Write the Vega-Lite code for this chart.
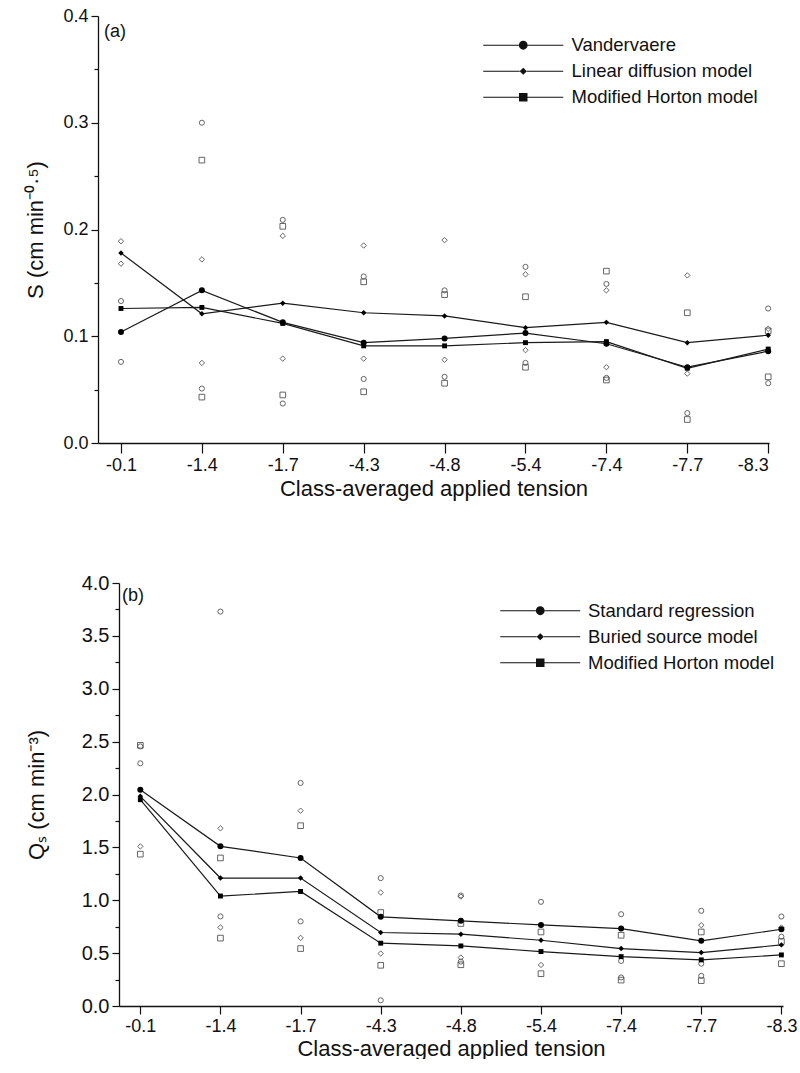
{
  "$schema": "https://vega.github.io/schema/vega-lite/v6.json",
  "background": "white",
  "padding": {"left": 24, "top": 7, "right": 0, "bottom": 0},
  "config": {
    "view": {"stroke": null},
    "font": "Liberation Sans",
    "axis": {"domainColor": "#111", "tickColor": "#111", "labelColor": "#111", "titleColor": "#111", "labelFont": "Liberation Sans", "titleFont": "Liberation Sans", "titleFontWeight": "normal", "domainWidth": 1.3, "tickWidth": 1.2, "grid": false}
  },
  "datasets": {
    "a": [
      {"pos":1,"method":"Vandervaere","kind":"mean","v":0.104},
      {"pos":2,"method":"Vandervaere","kind":"mean","v":0.143},
      {"pos":3,"method":"Vandervaere","kind":"mean","v":0.113},
      {"pos":4,"method":"Vandervaere","kind":"mean","v":0.094},
      {"pos":5,"method":"Vandervaere","kind":"mean","v":0.098},
      {"pos":6,"method":"Vandervaere","kind":"mean","v":0.103},
      {"pos":7,"method":"Vandervaere","kind":"mean","v":0.093},
      {"pos":8,"method":"Vandervaere","kind":"mean","v":0.071},
      {"pos":9,"method":"Vandervaere","kind":"mean","v":0.086},
      {"pos":1,"method":"Linear diffusion model","kind":"mean","v":0.178},
      {"pos":2,"method":"Linear diffusion model","kind":"mean","v":0.121},
      {"pos":3,"method":"Linear diffusion model","kind":"mean","v":0.131},
      {"pos":4,"method":"Linear diffusion model","kind":"mean","v":0.122},
      {"pos":5,"method":"Linear diffusion model","kind":"mean","v":0.119},
      {"pos":6,"method":"Linear diffusion model","kind":"mean","v":0.108},
      {"pos":7,"method":"Linear diffusion model","kind":"mean","v":0.113},
      {"pos":8,"method":"Linear diffusion model","kind":"mean","v":0.094},
      {"pos":9,"method":"Linear diffusion model","kind":"mean","v":0.101},
      {"pos":1,"method":"Modified Horton model","kind":"mean","v":0.126},
      {"pos":2,"method":"Modified Horton model","kind":"mean","v":0.127},
      {"pos":3,"method":"Modified Horton model","kind":"mean","v":0.112},
      {"pos":4,"method":"Modified Horton model","kind":"mean","v":0.091},
      {"pos":5,"method":"Modified Horton model","kind":"mean","v":0.091},
      {"pos":6,"method":"Modified Horton model","kind":"mean","v":0.094},
      {"pos":7,"method":"Modified Horton model","kind":"mean","v":0.095},
      {"pos":8,"method":"Modified Horton model","kind":"mean","v":0.070},
      {"pos":9,"method":"Modified Horton model","kind":"mean","v":0.088},
      {"pos":1,"method":"Linear diffusion model","kind":"obs","v":0.189},
      {"pos":1,"method":"Linear diffusion model","kind":"obs","v":0.168},
      {"pos":1,"method":"Vandervaere","kind":"obs","v":0.133},
      {"pos":1,"method":"Vandervaere","kind":"obs","v":0.076},
      {"pos":2,"method":"Vandervaere","kind":"obs","v":0.300},
      {"pos":2,"method":"Modified Horton model","kind":"obs","v":0.265},
      {"pos":2,"method":"Linear diffusion model","kind":"obs","v":0.172},
      {"pos":2,"method":"Linear diffusion model","kind":"obs","v":0.075},
      {"pos":2,"method":"Vandervaere","kind":"obs","v":0.051},
      {"pos":2,"method":"Modified Horton model","kind":"obs","v":0.043},
      {"pos":3,"method":"Vandervaere","kind":"obs","v":0.209},
      {"pos":3,"method":"Modified Horton model","kind":"obs","v":0.203},
      {"pos":3,"method":"Linear diffusion model","kind":"obs","v":0.194},
      {"pos":3,"method":"Linear diffusion model","kind":"obs","v":0.079},
      {"pos":3,"method":"Modified Horton model","kind":"obs","v":0.045},
      {"pos":3,"method":"Vandervaere","kind":"obs","v":0.037},
      {"pos":4,"method":"Linear diffusion model","kind":"obs","v":0.185},
      {"pos":4,"method":"Vandervaere","kind":"obs","v":0.156},
      {"pos":4,"method":"Modified Horton model","kind":"obs","v":0.151},
      {"pos":4,"method":"Linear diffusion model","kind":"obs","v":0.079},
      {"pos":4,"method":"Vandervaere","kind":"obs","v":0.060},
      {"pos":4,"method":"Modified Horton model","kind":"obs","v":0.048},
      {"pos":5,"method":"Linear diffusion model","kind":"obs","v":0.190},
      {"pos":5,"method":"Vandervaere","kind":"obs","v":0.143},
      {"pos":5,"method":"Modified Horton model","kind":"obs","v":0.139},
      {"pos":5,"method":"Linear diffusion model","kind":"obs","v":0.078},
      {"pos":5,"method":"Vandervaere","kind":"obs","v":0.062},
      {"pos":5,"method":"Modified Horton model","kind":"obs","v":0.056},
      {"pos":6,"method":"Vandervaere","kind":"obs","v":0.165},
      {"pos":6,"method":"Linear diffusion model","kind":"obs","v":0.158},
      {"pos":6,"method":"Modified Horton model","kind":"obs","v":0.137},
      {"pos":6,"method":"Linear diffusion model","kind":"obs","v":0.087},
      {"pos":6,"method":"Vandervaere","kind":"obs","v":0.075},
      {"pos":6,"method":"Modified Horton model","kind":"obs","v":0.071},
      {"pos":7,"method":"Modified Horton model","kind":"obs","v":0.161},
      {"pos":7,"method":"Vandervaere","kind":"obs","v":0.149},
      {"pos":7,"method":"Linear diffusion model","kind":"obs","v":0.143},
      {"pos":7,"method":"Linear diffusion model","kind":"obs","v":0.071},
      {"pos":7,"method":"Vandervaere","kind":"obs","v":0.061},
      {"pos":7,"method":"Modified Horton model","kind":"obs","v":0.059},
      {"pos":8,"method":"Linear diffusion model","kind":"obs","v":0.157},
      {"pos":8,"method":"Modified Horton model","kind":"obs","v":0.122},
      {"pos":8,"method":"Linear diffusion model","kind":"obs","v":0.065},
      {"pos":8,"method":"Vandervaere","kind":"obs","v":0.028},
      {"pos":8,"method":"Modified Horton model","kind":"obs","v":0.022},
      {"pos":9,"method":"Vandervaere","kind":"obs","v":0.126},
      {"pos":9,"method":"Linear diffusion model","kind":"obs","v":0.107},
      {"pos":9,"method":"Modified Horton model","kind":"obs","v":0.105},
      {"pos":9,"method":"Modified Horton model","kind":"obs","v":0.062},
      {"pos":9,"method":"Vandervaere","kind":"obs","v":0.056}
    ],
    "b": [
      {"pos":1,"method":"Standard regression","kind":"mean","v":2.046},
      {"pos":2,"method":"Standard regression","kind":"mean","v":1.51},
      {"pos":3,"method":"Standard regression","kind":"mean","v":1.40},
      {"pos":4,"method":"Standard regression","kind":"mean","v":0.843},
      {"pos":5,"method":"Standard regression","kind":"mean","v":0.805},
      {"pos":6,"method":"Standard regression","kind":"mean","v":0.767},
      {"pos":7,"method":"Standard regression","kind":"mean","v":0.732},
      {"pos":8,"method":"Standard regression","kind":"mean","v":0.616},
      {"pos":9,"method":"Standard regression","kind":"mean","v":0.726},
      {"pos":1,"method":"Buried source model","kind":"mean","v":1.983},
      {"pos":2,"method":"Buried source model","kind":"mean","v":1.21},
      {"pos":3,"method":"Buried source model","kind":"mean","v":1.21},
      {"pos":4,"method":"Buried source model","kind":"mean","v":0.695},
      {"pos":5,"method":"Buried source model","kind":"mean","v":0.679},
      {"pos":6,"method":"Buried source model","kind":"mean","v":0.622},
      {"pos":7,"method":"Buried source model","kind":"mean","v":0.543},
      {"pos":8,"method":"Buried source model","kind":"mean","v":0.505},
      {"pos":9,"method":"Buried source model","kind":"mean","v":0.578},
      {"pos":1,"method":"Modified Horton model","kind":"mean","v":1.951},
      {"pos":2,"method":"Modified Horton model","kind":"mean","v":1.04},
      {"pos":3,"method":"Modified Horton model","kind":"mean","v":1.083},
      {"pos":4,"method":"Modified Horton model","kind":"mean","v":0.594},
      {"pos":5,"method":"Modified Horton model","kind":"mean","v":0.568},
      {"pos":6,"method":"Modified Horton model","kind":"mean","v":0.515},
      {"pos":7,"method":"Modified Horton model","kind":"mean","v":0.467},
      {"pos":8,"method":"Modified Horton model","kind":"mean","v":0.436},
      {"pos":9,"method":"Modified Horton model","kind":"mean","v":0.483},
      {"pos":1,"method":"Modified Horton model","kind":"obs","v":2.465},
      {"pos":1,"method":"Standard regression","kind":"obs","v":2.455},
      {"pos":1,"method":"Standard regression","kind":"obs","v":2.295},
      {"pos":1,"method":"Buried source model","kind":"obs","v":1.509},
      {"pos":1,"method":"Modified Horton model","kind":"obs","v":1.436},
      {"pos":2,"method":"Standard regression","kind":"obs","v":3.73},
      {"pos":2,"method":"Buried source model","kind":"obs","v":1.68},
      {"pos":2,"method":"Modified Horton model","kind":"obs","v":1.40},
      {"pos":2,"method":"Standard regression","kind":"obs","v":0.847},
      {"pos":2,"method":"Buried source model","kind":"obs","v":0.743},
      {"pos":2,"method":"Modified Horton model","kind":"obs","v":0.642},
      {"pos":3,"method":"Standard regression","kind":"obs","v":2.109},
      {"pos":3,"method":"Buried source model","kind":"obs","v":1.847},
      {"pos":3,"method":"Modified Horton model","kind":"obs","v":1.705},
      {"pos":3,"method":"Standard regression","kind":"obs","v":0.80},
      {"pos":3,"method":"Buried source model","kind":"obs","v":0.644},
      {"pos":3,"method":"Modified Horton model","kind":"obs","v":0.543},
      {"pos":4,"method":"Standard regression","kind":"obs","v":1.209},
      {"pos":4,"method":"Buried source model","kind":"obs","v":1.073},
      {"pos":4,"method":"Modified Horton model","kind":"obs","v":0.884},
      {"pos":4,"method":"Buried source model","kind":"obs","v":0.496},
      {"pos":4,"method":"Modified Horton model","kind":"obs","v":0.385},
      {"pos":4,"method":"Standard regression","kind":"obs","v":0.054},
      {"pos":5,"method":"Standard regression","kind":"obs","v":1.045},
      {"pos":5,"method":"Buried source model","kind":"obs","v":1.035},
      {"pos":5,"method":"Modified Horton model","kind":"obs","v":0.78},
      {"pos":5,"method":"Buried source model","kind":"obs","v":0.458},
      {"pos":5,"method":"Standard regression","kind":"obs","v":0.42},
      {"pos":5,"method":"Modified Horton model","kind":"obs","v":0.39},
      {"pos":6,"method":"Standard regression","kind":"obs","v":0.985},
      {"pos":6,"method":"Modified Horton model","kind":"obs","v":0.70},
      {"pos":6,"method":"Buried source model","kind":"obs","v":0.388},
      {"pos":6,"method":"Modified Horton model","kind":"obs","v":0.306},
      {"pos":7,"method":"Standard regression","kind":"obs","v":0.868},
      {"pos":7,"method":"Modified Horton model","kind":"obs","v":0.669},
      {"pos":7,"method":"Standard regression","kind":"obs","v":0.426},
      {"pos":7,"method":"Standard regression","kind":"obs","v":0.27},
      {"pos":7,"method":"Modified Horton model","kind":"obs","v":0.245},
      {"pos":8,"method":"Standard regression","kind":"obs","v":0.90},
      {"pos":8,"method":"Buried source model","kind":"obs","v":0.764},
      {"pos":8,"method":"Modified Horton model","kind":"obs","v":0.70},
      {"pos":8,"method":"Standard regression","kind":"obs","v":0.40},
      {"pos":8,"method":"Standard regression","kind":"obs","v":0.285},
      {"pos":8,"method":"Modified Horton model","kind":"obs","v":0.24},
      {"pos":9,"method":"Standard regression","kind":"obs","v":0.846},
      {"pos":9,"method":"Buried source model","kind":"obs","v":0.742},
      {"pos":9,"method":"Standard regression","kind":"obs","v":0.655},
      {"pos":9,"method":"Modified Horton model","kind":"obs","v":0.61},
      {"pos":9,"method":"Modified Horton model","kind":"obs","v":0.40}
    ]
  },
  "concat": [
    {
      "width": 671,
      "height": 427,
      "data": {"name": "a"},
      "encoding": {
        "x": {"field": "pos", "type": "quantitative", "scale": {"domain": [0.716, 9.01], "nice": false, "zero": false},
          "axis": {"values": [1,2,3,4,5,6,7,8,9], "labelExpr": "['-0.1','-1.4','-1.7','-4.3','-4.8','-5.4','-7.4','-7.7','-8.3'][datum.value-1]", "tickSize": 10, "labelPadding": 3, "labelFontSize": 18, "title": "Class-averaged applied tension", "titleFontSize": 22, "titlePadding": 4, "labelOverlap": false}},
        "y": {"field": "v", "type": "quantitative", "scale": {"domain": [0, 0.4], "nice": false, "zero": true},
          "axis": {"values": [0,0.05,0.1,0.15,0.2,0.25,0.3,0.35,0.4], "labelExpr": "abs(datum.value*10-round(datum.value*10))<0.001 ? format(datum.value,'.1f') : ''", "tickSize": {"condition": {"test": "abs(datum.value*10-round(datum.value*10))<0.001", "value": 7}, "value": 4}, "labelPadding": 3, "labelFontSize": 18, "title": "S (cm min⁻⁰·⁵)", "titleFontSize": 22, "titlePadding": 15, "labelOverlap": false}}
      },
      "layer": [
        {"transform": [{"filter": "datum.kind==='mean'"}], "mark": {"type": "line", "color": "#1a1a1a", "strokeWidth": 1.2}, "encoding": {"detail": {"field": "method"}}},
        {"transform": [{"filter": "datum.kind==='obs'"}], "mark": {"type": "point", "filled": false, "color": "#555", "strokeWidth": 0.9, "opacity": 1},
          "encoding": {"shape": {"field": "method", "scale": {"domain": ["Vandervaere","Linear diffusion model","Modified Horton model"], "range": ["circle","diamond","square"]}, "legend": null},
            "size": {"field": "method", "scale": {"domain": ["Vandervaere","Linear diffusion model","Modified Horton model"], "range": [26,32,24]}, "legend": null}}},
        {"transform": [{"filter": "datum.kind==='mean'"}], "mark": {"type": "point", "filled": true, "color": "#000", "opacity": 1},
          "encoding": {"shape": {"field": "method", "scale": {"domain": ["Vandervaere","Linear diffusion model","Modified Horton model"], "range": ["circle","diamond","square"]}, "legend": null},
            "size": {"field": "method", "scale": {"domain": ["Vandervaere","Linear diffusion model","Modified Horton model"], "range": [36,24,36]}, "legend": null}}},
        {"transform": [{"filter": "false"}], "mark": {"type": "point", "filled": true, "color": "#111", "opacity": 1},
          "encoding": {"shape": {"field": "method", "scale": {"domain": ["Vandervaere","Linear diffusion model","Modified Horton model"], "range": [
            "M-5,-0.075H-0.55V0.075H-5Z M0.55,-0.075H5V0.075H0.55Z M0.55,0A0.55,0.55,0,1,1,-0.55,0A0.55,0.55,0,1,1,0.55,0Z",
            "M-5,-0.075H-0.45V0.075H-5Z M0.45,-0.075H5V0.075H0.45Z M0,-0.45L0.45,0L0,0.45L-0.45,0Z",
            "M-5,-0.075H-0.53V0.075H-5Z M0.53,-0.075H5V0.075H0.53Z M-0.53,-0.53H0.53V0.53H-0.53Z"]},
            "legend": {"orient": "none", "legendX": 416, "legendY": 20, "title": null, "symbolSize": 256, "symbolFillColor": "#111", "symbolStrokeWidth": 0, "symbolOpacity": 1, "labelFontSize": 18.5, "labelFont": "Liberation Sans", "labelColor": "#111", "labelOffset": 39, "rowPadding": 7, "labelLimit": 400}}}},
        {"transform": [{"filter": "datum.kind==='mean' && datum.pos===1 && datum.method==='Vandervaere'"}],
          "mark": {"type": "text", "text": "(a)", "align": "left", "baseline": "middle", "fontSize": 18, "font": "Liberation Sans", "color": "#111"},
          "encoding": {"x": {"datum": 0.79}, "y": {"datum": 0.385}}}
      ],
      "resolve": {"scale": {"shape": "independent", "size": "independent"}}
    },
    {
      "width": 685,
      "height": 423,
      "data": {"name": "b"},
      "encoding": {
        "x": {"field": "pos", "type": "quantitative", "scale": {"domain": [0.734, 9.02], "range": [21, 685], "nice": false, "zero": false},
          "axis": {"values": [1,2,3,4,5,6,7,8,9], "labelExpr": "['-0.1','-1.4','-1.7','-4.3','-4.8','-5.4','-7.4','-7.7','-8.3'][datum.value-1]", "tickSize": 8, "labelPadding": 3, "labelFontSize": 18, "title": "Class-averaged applied tension", "titleFontSize": 22, "titlePadding": 3, "labelOverlap": false}},
        "y": {"field": "v", "type": "quantitative", "scale": {"domain": [0, 4], "nice": false, "zero": true},
          "axis": {"offset": -21, "values": [0,0.25,0.5,0.75,1,1.25,1.5,1.75,2,2.25,2.5,2.75,3,3.25,3.5,3.75,4], "labelExpr": "abs(datum.value*2-round(datum.value*2))<0.001 ? format(datum.value,'.1f') : ''", "tickSize": {"condition": {"test": "abs(datum.value*2-round(datum.value*2))<0.001", "value": 7}, "value": 4}, "labelPadding": 3, "labelFontSize": 20, "title": "Qₛ (cm min⁻³)", "titleFontSize": 22, "titlePadding": 33, "labelOverlap": false}}
      },
      "layer": [
        {"transform": [{"filter": "datum.kind==='mean'"}], "mark": {"type": "line", "color": "#1a1a1a", "strokeWidth": 1.2}, "encoding": {"detail": {"field": "method"}}},
        {"transform": [{"filter": "datum.kind==='obs'"}], "mark": {"type": "point", "filled": false, "color": "#555", "strokeWidth": 0.9, "opacity": 1},
          "encoding": {"shape": {"field": "method", "scale": {"domain": ["Standard regression","Buried source model","Modified Horton model"], "range": ["circle","diamond","square"]}, "legend": null},
            "size": {"field": "method", "scale": {"domain": ["Standard regression","Buried source model","Modified Horton model"], "range": [26,32,24]}, "legend": null}}},
        {"transform": [{"filter": "datum.kind==='mean'"}], "mark": {"type": "point", "filled": true, "color": "#000", "opacity": 1},
          "encoding": {"shape": {"field": "method", "scale": {"domain": ["Standard regression","Buried source model","Modified Horton model"], "range": ["circle","diamond","square"]}, "legend": null},
            "size": {"field": "method", "scale": {"domain": ["Standard regression","Buried source model","Modified Horton model"], "range": [36,24,36]}, "legend": null}}},
        {"transform": [{"filter": "false"}], "mark": {"type": "point", "filled": true, "color": "#111", "opacity": 1},
          "encoding": {"shape": {"field": "method", "scale": {"domain": ["Standard regression","Buried source model","Modified Horton model"], "range": [
            "M-5,-0.075H-0.55V0.075H-5Z M0.55,-0.075H5V0.075H0.55Z M0.55,0A0.55,0.55,0,1,1,-0.55,0A0.55,0.55,0,1,1,0.55,0Z",
            "M-5,-0.075H-0.45V0.075H-5Z M0.45,-0.075H5V0.075H0.45Z M0,-0.45L0.45,0L0,0.45L-0.45,0Z",
            "M-5,-0.075H-0.53V0.075H-5Z M0.53,-0.075H5V0.075H0.53Z M-0.53,-0.53H0.53V0.53H-0.53Z"]},
            "legend": {"orient": "none", "legendX": 433, "legendY": 18.5, "title": null, "symbolSize": 256, "symbolFillColor": "#111", "symbolStrokeWidth": 0, "symbolOpacity": 1, "labelFontSize": 18.5, "labelFont": "Liberation Sans", "labelColor": "#111", "labelOffset": 38.5, "rowPadding": 7, "labelLimit": 400}}}},
        {"transform": [{"filter": "datum.kind==='mean' && datum.pos===1 && datum.method==='Standard regression'"}],
          "mark": {"type": "text", "text": "(b)", "align": "left", "baseline": "middle", "fontSize": 18, "font": "Liberation Sans", "color": "#111"},
          "encoding": {"x": {"datum": 0.77}, "y": {"datum": 3.88}}}
      ],
      "resolve": {"scale": {"shape": "independent", "size": "independent"}}
    }
  ],
  "columns": 1,
  "align": "none",
  "bounds": "full",
  "spacing": 74
}
